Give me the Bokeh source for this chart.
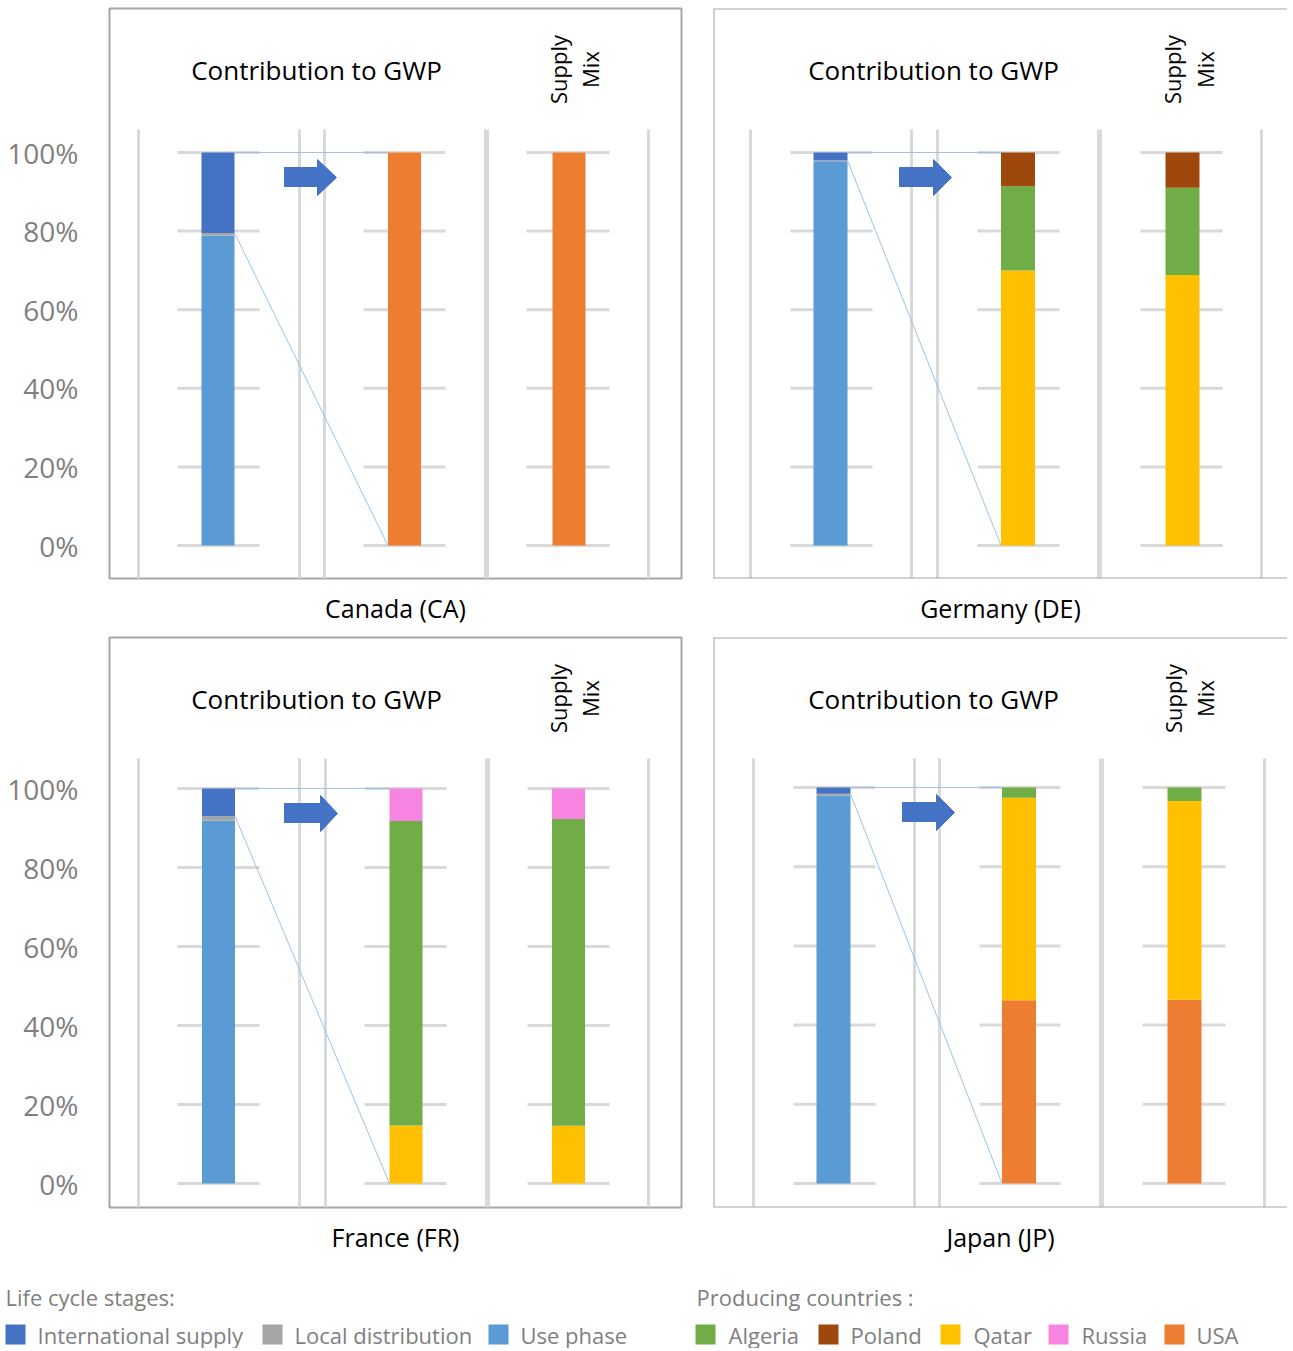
import math
from bokeh.plotting import figure
from bokeh.models import ColumnDataSource, Range1d, FixedTicker, PrintfTickFormatter, Label, Span
from bokeh.layouts import column, row
from bokeh.core.properties import value
from bokeh.embed import file_html
from bokeh.resources import INLINE

# ---------------- data ----------------
countries = ["Canada (CA)", "Germany (DE)", "France (FR)", "Japan (JP)"]
stage_names = ["International supply", "Local distribution", "Use phase"]
producer_names = ["Algeria", "Poland", "Qatar", "Russia", "USA"]
y_ticks = [0, 20, 40, 60, 80, 100]

# life cycle stage shares of GWP (%)
intl_supply = [20.5, 2.0, 7.0, 1.6]
local_dist = [0.7, 0.2, 1.1, 0.5]
use_phase = [78.8, 97.8, 91.9, 97.9]

# contribution of producing countries to GWP of international supply (%)
gwp_algeria = [0.0, 21.4, 77.1, 2.6]
gwp_poland = [0.0, 8.6, 0.0, 0.0]
gwp_qatar = [0.0, 70.0, 14.7, 51.1]
gwp_russia = [0.0, 0.0, 8.2, 0.0]
gwp_usa = [100.0, 0.0, 0.0, 46.3]

# supply mix (%)
mix_algeria = [0.0, 22.2, 77.7, 3.4]
mix_poland = [0.0, 9.0, 0.0, 0.0]
mix_qatar = [0.0, 68.8, 14.6, 50.2]
mix_russia = [0.0, 0.0, 7.7, 0.0]
mix_usa = [100.0, 0.0, 0.0, 46.4]

# ---------------- styles ----------------
FONT = "Open Sans"
STAGE_COLORS = {"International supply": "#4472c4", "Local distribution": "#a5a5a5", "Use phase": "#5b9bd5"}
PROD_COLORS = {"Algeria": "#70ad47", "Poland": "#9e480e", "Qatar": "#ffc000", "Russia": "#f784e1", "USA": "#ed7d31"}
GRID = "#d9d9d9"
BORDER = "#a6a6a6"
CONNECT = "#9dc3e6"

# panel geometry (pixels relative to each frame's left / top edge)
GEOM = [
    dict(vlines=[29, 190, 215, 377, 539], bars=[108.5, 295, 459.5], grid=[(68, 150), (254, 336), (417, 500)],
         arrow=(175, 208, 227), title_x=207, supply_x=(448, 480), px_top=144, px_zero=537, bw=33),
    dict(vlines=[37, 198, 224, 386, 548], bars=[117, 304.5, 469], grid=[(77, 159), (264, 346), (427, 509)],
         arrow=(186, 220, 238), title_x=220, supply_x=(458, 491), px_top=144, px_zero=537, bw=34),
    dict(vlines=[29, 190, 216, 378, 539], bars=[109, 296.5, 459], grid=[(68, 150), (255, 337), (418, 500)],
         arrow=(175, 211, 228), title_x=207, supply_x=(448, 480), px_top=151, px_zero=546, bw=33),
    dict(vlines=[40, 201, 226, 388, 551], bars=[120, 305.5, 471], grid=[(80, 162), (266, 347), (429, 512)],
         arrow=(189, 223, 241), title_x=220, supply_x=(459, 491), px_top=150, px_zero=546, bw=34),
]

FRAME_H = 570


def make_panel(i):
    g = GEOM[i]
    left = i in (0, 2)
    top_row = i < 2
    fw = 572 if left else 574
    scale = (g["px_zero"] - g["px_top"]) / 100.0
    y0 = -(FRAME_H - g["px_zero"]) / scale
    y1 = 100 + g["px_top"] / scale
    mb_left = 109 if left else 16
    mb_right = 16 if left else 0
    mb_top = 8
    mb_bottom = 51 if top_row else 67
    p = figure(width=mb_left + fw + mb_right, height=mb_top + FRAME_H + mb_bottom,
               x_range=Range1d(0, fw), y_range=Range1d(y0, y1),
               output_backend="svg", toolbar_location=None,
               y_axis_location="left" if left else None,
               min_border_left=mb_left, min_border_right=mb_right,
               min_border_top=mb_top, min_border_bottom=mb_bottom,
               background_fill_color="white", border_fill_color="white")
    p.grid.visible = False
    if left:
        p.outline_line_color = BORDER
        p.outline_line_width = 2
        ya = p.yaxis[0]
        ya.ticker = FixedTicker(ticks=y_ticks)
        ya.formatter = PrintfTickFormatter(format="%d%%")
        ya.axis_line_color = None
        ya.major_tick_line_color = None
        ya.minor_tick_line_color = None
        ya.major_tick_out = 0
        ya.major_tick_in = 0
        ya.major_label_standoff = 31
        ya.major_label_text_font = FONT
        ya.major_label_text_font_size = "28px"
        ya.major_label_text_color = "#7f7f7f"
    else:
        p.outline_line_color = None
        for loc, dim in ((y1, "width"), (y0, "width"), (0, "height")):
            p.add_layout(Span(location=loc, dimension=dim, line_color=BORDER, line_width=2))

    xa = p.xaxis[0]
    xa.ticker = FixedTicker(ticks=[])
    xa.axis_line_color = None
    xa.major_tick_line_color = None
    xa.minor_tick_line_color = None
    xa.major_label_text_font_size = "0px"
    xa.major_label_standoff = 0
    xa.axis_label = countries[i]
    xa.axis_label_text_font = FONT
    xa.axis_label_text_font_size = "25px"
    xa.axis_label_text_font_style = "normal"
    xa.axis_label_text_color = "black"
    xa.axis_label_standoff = 12

    # vertical separators
    vtop = y1 - 121 / scale
    vx = g["vlines"]
    widths = [3, 3, 3, 5, 3]
    p.segment(x0=vx, y0=[y0] * len(vx), x1=vx, y1=[vtop] * len(vx), line_color=GRID, line_width=widths)

    # short gridlines at each tick, for each column
    gx0, gx1, gy = [], [], []
    for (a, b) in g["grid"]:
        for t in y_ticks:
            gx0.append(a)
            gx1.append(b)
            gy.append(t)
    p.segment(x0=gx0, y0=gy, x1=gx1, y1=gy, line_color=GRID, line_width=3)

    bw = g["bw"]
    # life cycle stage stacked bar
    src_st = ColumnDataSource(dict(x=[g["bars"][0]], use=[use_phase[i]], local=[local_dist[i]], intl=[intl_supply[i]]))
    p.vbar_stack(["use", "local", "intl"], x="x", width=bw, source=src_st,
                 fill_color=[STAGE_COLORS["Use phase"], STAGE_COLORS["Local distribution"],
                             STAGE_COLORS["International supply"]],
                 line_color=None)

    # producing countries stacked bars (GWP contribution + supply mix)
    src_pr = ColumnDataSource(dict(
        x=[g["bars"][1], g["bars"][2]],
        USA=[gwp_usa[i], mix_usa[i]],
        Qatar=[gwp_qatar[i], mix_qatar[i]],
        Algeria=[gwp_algeria[i], mix_algeria[i]],
        Russia=[gwp_russia[i], mix_russia[i]],
        Poland=[gwp_poland[i], mix_poland[i]],
    ))
    order = ["USA", "Qatar", "Algeria", "Russia", "Poland"]
    p.vbar_stack(order, x="x", width=bw, source=src_pr,
                 fill_color=[PROD_COLORS[k] for k in order], line_color=None)

    # connector lines
    total = intl_supply[i] + local_dist[i] + use_phase[i]
    gwp_total = gwp_usa[i] + gwp_qatar[i] + gwp_algeria[i] + gwp_russia[i] + gwp_poland[i]
    b1r = g["bars"][0] + bw / 2
    b2l = g["bars"][1] - bw / 2
    p.segment(x0=[b1r, b1r], y0=[total, total - intl_supply[i]], x1=[b2l, b2l], y1=[gwp_total, 0],
              line_color=CONNECT, line_width=1)

    # block arrow
    a0, a1, a2 = g["arrow"]
    bt, bb = 100 - 15 / scale, 100 - 34 / scale
    ht, hb = 100 - 7 / scale, 100 - 43 / scale
    tip = 100 - 25 / scale
    p.patch(x=[a0, a1, a1, a2, a1, a1, a0], y=[bt, bt, ht, tip, hb, bb, bb],
            fill_color="#4472c4", line_color="#4472c4", line_width=1)

    # titles
    ty = y1 - 61 / scale
    p.add_layout(Label(x=g["title_x"], y=ty, text="Contribution to GWP", text_align="center",
                       text_baseline="middle", text_font=FONT, text_font_size="26px", text_color="black"))
    for sx, txt in zip(g["supply_x"], ["Supply", "Mix"]):
        p.add_layout(Label(x=sx, y=ty, text=txt, angle=math.pi / 2, text_align="center",
                           text_baseline="middle", text_font=FONT, text_font_size="22px", text_color="black"))
    return p


panels = [make_panel(i) for i in range(4)]

# ---------------- legend ----------------
LEG_H = 74
leg = figure(width=1287, height=LEG_H, x_range=Range1d(0, 1287), y_range=Range1d(LEG_H, 0),
             output_backend="svg", toolbar_location=None, x_axis_location=None, y_axis_location=None,
             min_border=0, outline_line_color=None, background_fill_color="white", border_fill_color="white")
leg.grid.visible = False

stage_sq_x = [5, 262, 488]
stage_tx_x = [37, 294, 520]
prod_sq_x = [695, 818, 940, 1048, 1164]
prod_tx_x = [728, 850, 973, 1081, 1196]
item_y = 60
head_y = 22

leg.text(x=[5, 696], y=[head_y, head_y], text=["Life cycle stages:", "Producing countries :"],
         text_font=value(FONT), text_font_size="22px", text_color="#808080", text_baseline="middle")
leg.rect(x=[v + 10 for v in stage_sq_x] + [v + 10 for v in prod_sq_x], y=[item_y] * 8, width=20, height=20,
         fill_color=[STAGE_COLORS[s] for s in stage_names] + [PROD_COLORS[c] for c in producer_names],
         line_color=None)
leg.text(x=stage_tx_x + prod_tx_x, y=[item_y] * 8, text=stage_names + producer_names,
         text_font=value(FONT), text_font_size="22px", text_color="#808080", text_baseline="middle")

layout = column(row(panels[0], panels[1]), row(panels[2], panels[3]), leg)
open("out.html", "w").write(file_html(layout, INLINE))
